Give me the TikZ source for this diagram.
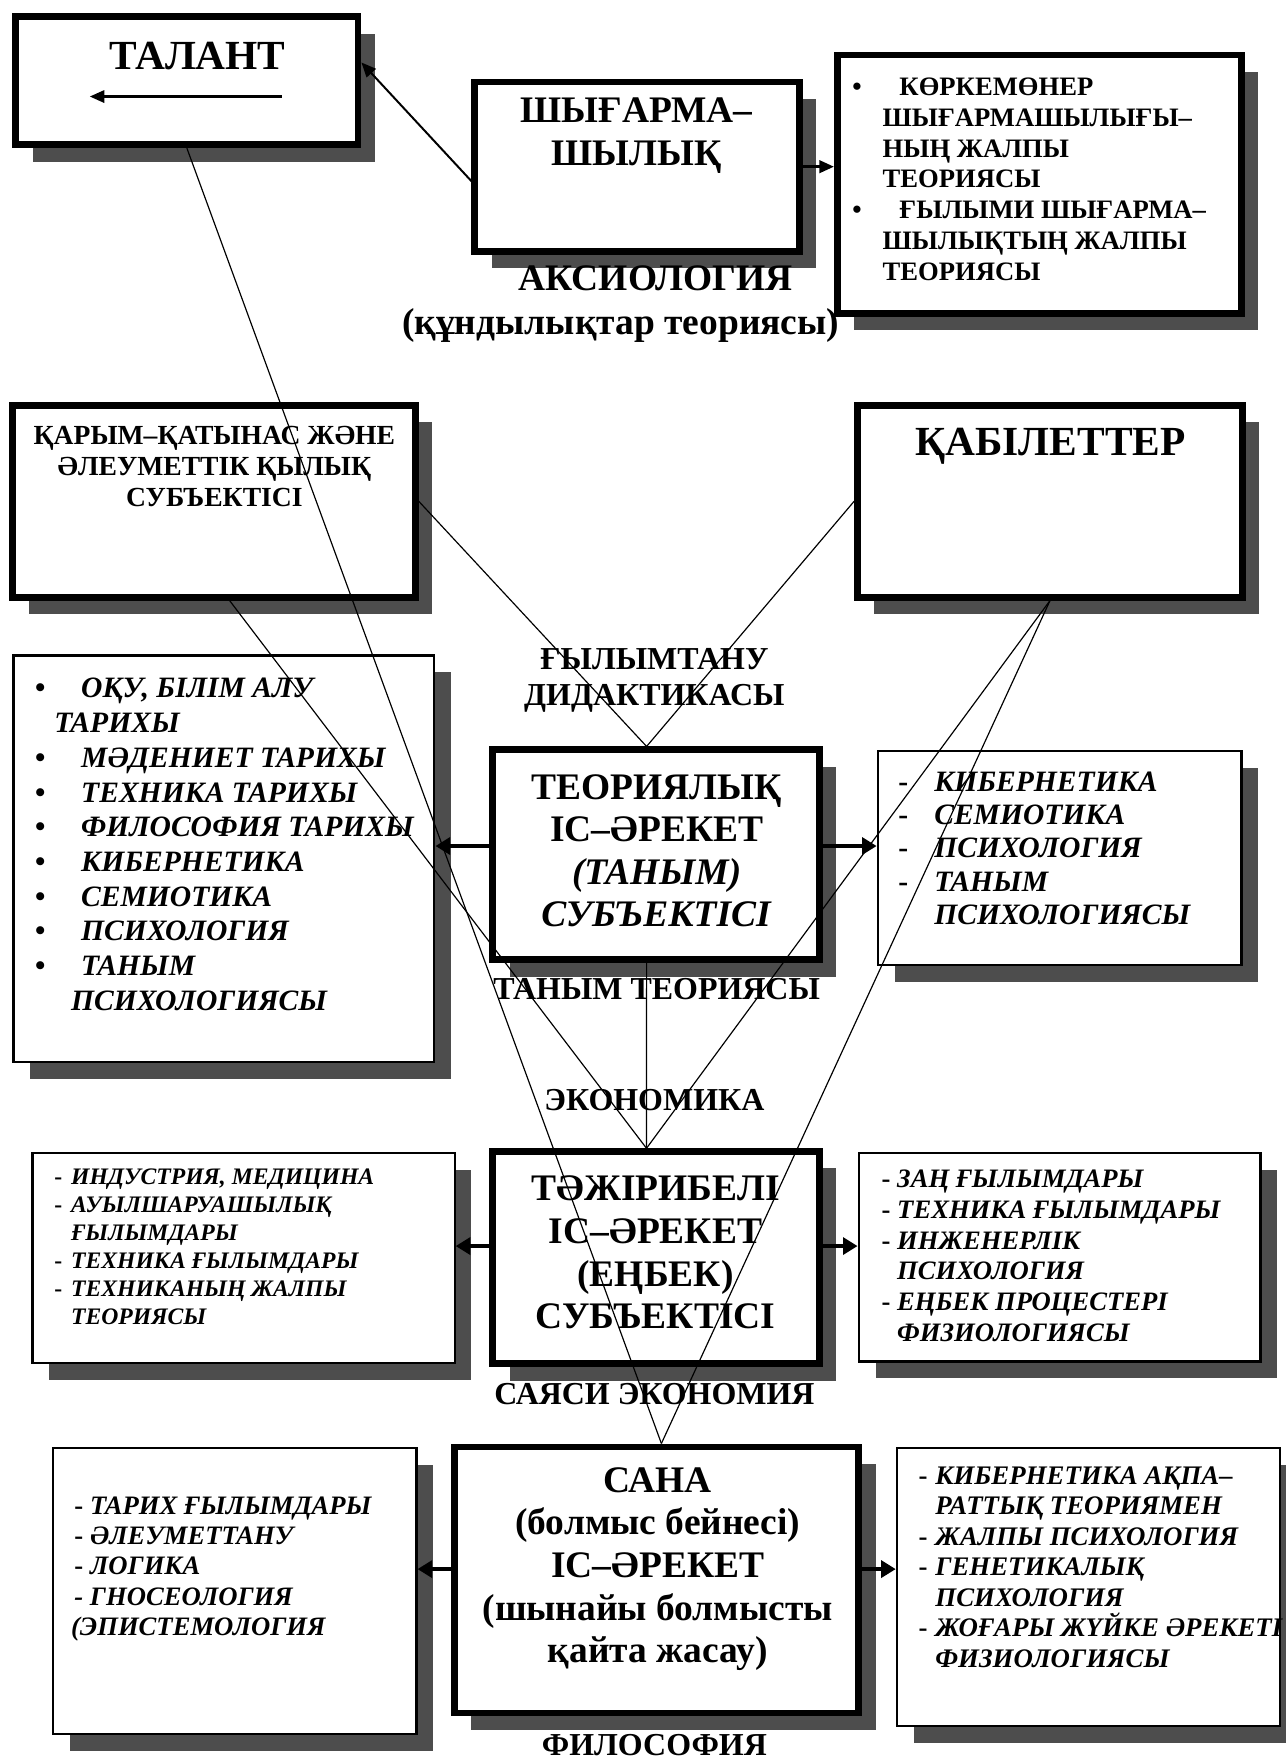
\documentclass[tikz,border=0pt]{standalone}
\usepackage{fontspec}
\setmainfont{Liberation Serif}
\usetikzlibrary{arrows.meta,positioning,fit,shadows}
\definecolor{shd}{HTML}{4D4D4D}
\newcommand{\itm}[1][0.82cm]{\makebox[#1][l]{\upshape\textbullet}}
\newcommand{\dsh}[1][0.3cm]{\makebox[#1][l]{\upshape -}}
\tikzset{
  box/.style={rectangle, draw=black, fill=white, line width=1.1pt, inner sep=0pt,
              drop shadow={shadow xshift=0.3cm, shadow yshift=-0.3cm, fill=shd, opacity=1}},
  boxk/.style={box, line width=3.4pt},
  big/.style={font=\bfseries\fontsize{21}{24}\selectfont, inner sep=0pt},
  hd/.style={font=\bfseries\fontsize{19}{21.6}\selectfont, align=center, inner sep=0pt},
  lbl/.style={font=\bfseries\fontsize{16.2}{18.2}\selectfont, align=center, inner sep=0pt},
  subhd/.style={font=\bfseries\fontsize{14}{15.7}\selectfont, align=center, inner sep=0pt},
  lst/.style={align=left, inner sep=0pt, anchor=north west},
  ln/.style={line width=0.6pt},
  fl/.style={-{Triangle[length=0.26cm,width=0.22cm]}, line width=1pt},
  flk/.style={-{Triangle[length=0.26cm,width=0.3cm]}, line width=2pt},
}
\begin{document}
\begin{tikzpicture}[x=0.02cm, y=-0.02cm]
  \useasboundingbox (0,0) rectangle (1145,1568);
  \node[boxk, fit={(14,15) (319,129)}] (tal) {};
  \node[boxk, fit={(423,73) (712,224)}] (shy) {};
  \node[boxk, fit={(746,49) (1106,279)}] (kor) {};
  \node[boxk, fit={(11,361) (370,532)}] (kar) {};
  \node[boxk, fit={(764,361) (1107,532)}] (kab) {};
  \node[box, fit={(12,584) (387,946)}] (lstT) {};
  \node[boxk, fit={(439,668) (730,855)}] (teo) {};
  \node[box, fit={(782,669) (1106,860)}] (rstT) {};
  \node[box, fit={(29,1027) (405,1214)}] (lstJ) {};
  \node[boxk, fit={(439,1026) (730,1215)}] (taj) {};
  \node[box, fit={(765,1027) (1123,1213)}] (rstJ) {};
  \node[box, fit={(47,1290) (371,1545)}] (lstS) {};
  \node[boxk, fit={(405,1289) (765,1526)}] (san) {};
  \node[box, fit={(799,1290) (1140,1538)}] (rstS) {};

  \node[big] (talT) at (176,50) {ТАЛАНТ};
  \node[hd] (shyT) at (567,121) {ШЫҒАРМА–\\ШЫЛЫҚ};
  \node[hd] (aks) at (584,248) {АКСИОЛОГИЯ};
  \node[hd] (aksB) at (553,290) {(құндылықтар теориясы)};
  \node[lst, font=\bfseries\fontsize{13.5}{15.6}\selectfont] (korT) at (759,69)
    {\itm[0.84cm]КӨРКЕМӨНЕР\\\hspace*{0.54cm}ШЫҒАРМАШЫЛЫҒЫ–\\\hspace*{0.54cm}НЫҢ ЖАЛПЫ\\\hspace*{0.54cm}ТЕОРИЯСЫ\\
     \itm[0.84cm]ҒЫЛЫМИ ШЫҒАРМА–\\\hspace*{0.54cm}ШЫЛЫҚТЫҢ ЖАЛПЫ\\\hspace*{0.54cm}ТЕОРИЯСЫ};
  \node[subhd] (karT) at (191,416) {ҚАРЫМ–ҚАТЫНАС ЖӘНЕ\\ӘЛЕУМЕТТІК ҚЫЛЫҚ\\СУБЪЕКТІСІ};
  \node[big] (kabT) at (936,398) {ҚАБІЛЕТТЕР};
  \node[lbl] (gyl) at (583,606) {ҒЫЛЫМТАНУ\\ДИДАКТИКАСЫ};
  \node[lst, font=\bfseries\itshape\fontsize{15}{17.6}\selectfont] (lstTT) at (31,604)
    {\itm ОҚУ, БІЛІМ АЛУ\\\hspace*{0.34cm}ТАРИХЫ\\\itm МӘДЕНИЕТ ТАРИХЫ\\\itm ТЕХНИКА ТАРИХЫ\\
     \itm ФИЛОСОФИЯ ТАРИХЫ\\\itm КИБЕРНЕТИКА\\\itm СЕМИОТИКА\\\itm ПСИХОЛОГИЯ\\
     \itm ТАНЫМ\\\hspace*{0.64cm}ПСИХОЛОГИЯСЫ};
  \node[hd] (teoT) at (585,758) {ТЕОРИЯЛЫҚ\\ІС–ӘРЕКЕТ\\\textit{(ТАНЫМ)}\\\textit{СУБЪЕКТІСІ}};
  \node[lst, font=\bfseries\itshape\fontsize{15}{16.9}\selectfont] (rstTT) at (800,687)
    {\dsh[0.64cm]КИБЕРНЕТИКА\\\dsh[0.64cm]СЕМИОТИКА\\\dsh[0.64cm]ПСИХОЛОГИЯ\\\dsh[0.64cm]ТАНЫМ\\
     \hspace*{0.64cm}ПСИХОЛОГИЯСЫ};
  \node[lbl] (tanT) at (585,881) {ТАНЫМ ТЕОРИЯСЫ};
  \node[lbl] (eko) at (583,980) {ЭКОНОМИКА};
  \node[hd] (tajT) at (584,1116) {ТӘЖІРИБЕЛІ\\ІС–ӘРЕКЕТ\\(ЕҢБЕК)\\СУБЪЕКТІСІ};
  \node[lst, font=\bfseries\itshape\fontsize{12}{14.2}\selectfont] (lstJT) at (48,1041)
    {\dsh ИНДУСТРИЯ, МЕДИЦИНА\\\dsh АУЫЛШАРУАШЫЛЫҚ\\\hspace*{0.3cm}ҒЫЛЫМДАРЫ\\
     \dsh ТЕХНИКА ҒЫЛЫМДАРЫ\\\dsh ТЕХНИКАНЫҢ ЖАЛПЫ\\\hspace*{0.3cm}ТЕОРИЯСЫ};
  \node[lst, font=\bfseries\itshape\fontsize{13.5}{15.6}\selectfont] (rstJT) at (785,1042)
    {\dsh[0.28cm]ЗАҢ ҒЫЛЫМДАРЫ\\\dsh[0.28cm]ТЕХНИКА ҒЫЛЫМДАРЫ\\\dsh[0.28cm]ИНЖЕНЕРЛІК\\
     \hspace*{0.28cm}ПСИХОЛОГИЯ\\\dsh[0.28cm]ЕҢБЕК ПРОЦЕСТЕРІ\\\hspace*{0.28cm}ФИЗИОЛОГИЯСЫ};
  \node[lbl] (say) at (583,1242) {САЯСИ ЭКОНОМИЯ};
  \node[hd] (sanT) at (586,1398) {САНА\\(болмыс бейнесі)\\ІС–ӘРЕКЕТ\\(шынайы болмысты\\қайта жасау)};
  \node[lst, font=\bfseries\itshape\fontsize{13.5}{15.4}\selectfont] (lstST) at (66,1333)
    {\dsh[0.28cm]ТАРИХ ҒЫЛЫМДАРЫ\\\dsh[0.28cm]ӘЛЕУМЕТТАНУ\\\dsh[0.28cm]ЛОГИКА\\- ГНОСЕОЛОГИЯ\\
     \hspace*{-0.06cm}(ЭПИСТЕМОЛОГИЯ};
  \node[lst, font=\bfseries\itshape\fontsize{13.6}{15.5}\selectfont] (rstST) at (818,1306)
    {\dsh[0.3cm]КИБЕРНЕТИКА АҚПА–\\\hspace*{0.3cm}РАТТЫҚ ТЕОРИЯМЕН\\\dsh[0.3cm]ЖАЛПЫ ПСИХОЛОГИЯ\\
     \dsh[0.3cm]ГЕНЕТИКАЛЫҚ\\\hspace*{0.3cm}ПСИХОЛОГИЯ\\\dsh[0.3cm]ЖОҒАРЫ ЖҮЙКЕ ӘРЕКЕТІ\\
     \hspace*{0.3cm}ФИЗИОЛОГИЯСЫ};
  \node[lbl] (fil) at (583,1555) {ФИЛОСОФИЯ};

  \coordinate (talA) at (251,86);
  \coordinate (talB) at (80,86);
  \draw[fl, line width=1.2pt] (talA) -- (talB);
  \draw[fl] (shy.185) -- (tal.6);
  \draw[fl, line width=1.5pt] (shy.east) -- (shy.east -| kor.west);

  \draw[ln] (tal.south) -- (san.88);
  \draw[ln] (kab.south) -- (san.88);
  \draw[ln] (kab.south) -- (taj.95);
  \draw[ln] (kar.-81) -- (taj.95);
  \draw[ln] (kar.east) -- (teo.95);
  \draw[ln] (kab.west) -- (teo.95);
  \draw[ln] (teo.-95) -- (taj.95);

  \draw[flk] (teo.177) -- (teo.177 -| lstT.east);
  \draw[flk] (teo.3) -- (teo.3 -| rstT.west);
  \draw[flk] (taj.176) -- (taj.176 -| lstJ.east);
  \draw[flk] (taj.4) -- (taj.4 -| rstJ.west);
  \draw[flk] (san.177) -- (san.177 -| lstS.east);
  \draw[flk] (san.3) -- (san.3 -| rstS.west);
\end{tikzpicture}
\end{document}
